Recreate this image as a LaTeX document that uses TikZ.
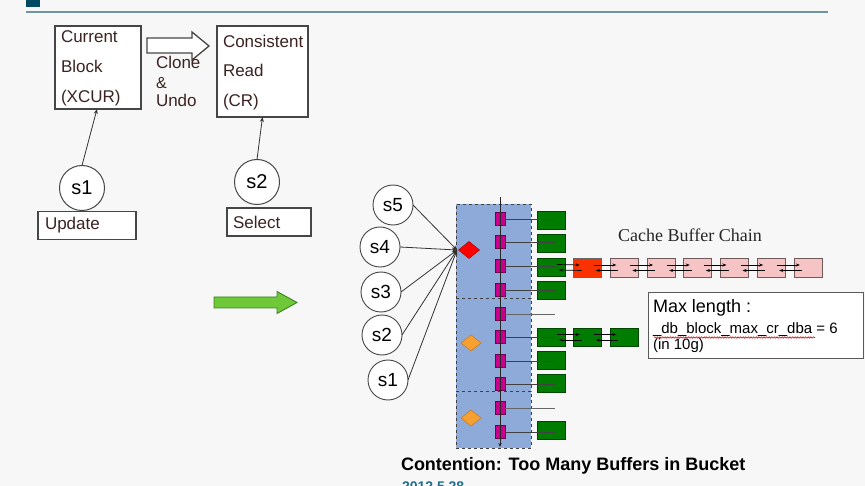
\documentclass[tikz,border=0pt]{standalone}
\usepackage{fontspec}
\setmainfont{Liberation Sans}
\newfontfamily\seriffont{Liberation Serif}
\usetikzlibrary{arrows.meta,shapes.geometric,decorations.pathmorphing}
\definecolor{bg}{RGB}{247,247,247}
\definecolor{hdr}{RGB}{0,75,100}
\definecolor{hdrline}{RGB}{110,150,160}
\definecolor{boxline}{RGB}{70,70,70}
\definecolor{btext}{RGB}{60,35,35}
\definecolor{bucketblue}{RGB}{142,170,217}
\definecolor{magent}{RGB}{200,0,140}
\definecolor{magentdk}{RGB}{110,0,80}
\definecolor{gfill}{RGB}{0,125,0}
\definecolor{gline}{RGB}{0,70,0}
\definecolor{pinkf}{RGB}{246,196,196}
\definecolor{pinkl}{RGB}{110,90,90}
\definecolor{redf}{RGB}{250,50,0}
\definecolor{orangef}{RGB}{247,160,50}
\definecolor{oranged}{RGB}{200,120,30}
\definecolor{arrowgreen}{RGB}{110,200,55}
\definecolor{arrowgreendk}{RGB}{60,130,40}
\definecolor{datecol}{RGB}{30,110,140}
\newcommand{\dlink}[2]{%
  \draw[lnk] ([xshift=-8pt,yshift=2.5pt]#1.east) -- ([xshift=6pt,yshift=2.5pt]#2.west);
  \draw[lnk] ([xshift=8pt,yshift=-3pt]#2.west) -- ([xshift=-6pt,yshift=-3pt]#1.east);
}
\begin{document}
\begin{tikzpicture}[x=1pt,y=-1pt,
  >={Stealth[length=5pt,width=4pt]},
  every node/.style={inner sep=0pt, outer sep=0pt},
  fs/.style={font=\fontsize{#1}{#1}\selectfont},
  btxt/.style={fs=17, text=btext, anchor=base west},
  bigbox/.style={draw=boxline, line width=1.3pt, fill=white, rectangle},
  labbox/.style={draw=boxline, line width=1.2pt, fill=white, rectangle, fs=17, text=btext, align=left, anchor=west},
  bigcirc/.style={circle, draw=boxline, line width=1pt, fill=white, minimum size=45pt, fs=20},
  smcirc/.style={circle, draw=boxline, line width=0.9pt, fill=white, minimum size=40pt, fs=19},
  bucket/.style={rectangle, draw=black!75, dashed, line width=0.8pt, fill=bucketblue, minimum width=75pt},
  mrect/.style={rectangle, draw=magentdk, line width=0.6pt, fill=magent, minimum width=10pt, minimum height=13.5pt},
  gbox/.style={rectangle, draw=gline, line width=0.8pt, fill=gfill, minimum width=28pt, minimum height=18pt},
  pbox/.style={rectangle, draw=pinkl, line width=0.8pt, fill=pinkf, minimum width=28pt, minimum height=19pt},
  rbox/.style={rectangle, draw=black!60, line width=0.8pt, fill=redf, minimum width=28pt, minimum height=19pt},
  hline/.style={draw=black!75, line width=0.8pt},
  conn/.style={draw=black!80, line width=0.8pt, ->},
  lnk/.style={draw=black, line width=0.7pt, -{Stealth[length=4pt,width=3pt]}}
]
\useasboundingbox (0,0) rectangle (865,486);
\clip (0,0) rectangle (865,486);
\fill[bg] (0,0) rectangle (865,486);

% header
\fill[hdr] (26,0) rectangle (40,7);
\draw[hdrline, line width=1.8pt] (26,12) -- (828,12);

% top-left boxes
\node[bigbox, minimum width=86pt, minimum height=83pt] (b1) at (98,67.5) {};
\node[btxt] (t1a) at (61,43) {Current};
\node[btxt] (t1b) at (61,73) {Block};
\node[btxt] (t1c) at (61,103) {(XCUR)};

\node[bigbox, minimum width=91pt, minimum height=91pt] (b2) at (262.5,71.5) {};
\node[btxt] (t2a) at (223,48) {Consistent};
\node[btxt] (t2b) at (223,77) {Read};
\node[btxt] (t2c) at (223,107) {(CR)};

% hollow arrow
\draw[boxline, line width=1.3pt, fill=white, line join=miter]
  (147,38) -- (192,38) -- (192,32) -- (209,46) -- (192,60) -- (192,53) -- (147,53) -- cycle;
\node[btxt] (cl1) at (156,68.5) {Clone};
\node[btxt, fs=16] (cl2) at (156,89) {\&};
\node[btxt] (cl3) at (156,106.5) {Undo};

% sessions top
\node[bigcirc] (s1top) at (82,188) {s1};
\node[bigcirc] (s2top) at (257,182) {s2};
\draw[conn] (s1top.north) -- ([xshift=-1pt]b1.south);
\draw[conn] (s2top.north) -- (b2.south);
\node[labbox, minimum width=98pt, minimum height=28pt, text width=84pt, inner xsep=7pt] (upd) at (38,225.5) {Update};
\node[labbox, minimum width=84pt, minimum height=28pt, text width=72pt, inner xsep=6pt] (sel) at (227,222) {Select};

% green arrow
\draw[arrowgreendk, line width=0.9pt, fill=arrowgreen, line join=miter]
  (214,297) -- (277,297) -- (277,291.5) -- (297,302.5) -- (277,313.5) -- (277,308) -- (214,308) -- cycle;

% bucket
\node[bucket, minimum height=94pt] (bk1) at (493.5,251) {};
\node[bucket, minimum height=93pt] (bk2) at (493.5,344.5) {};
\node[bucket, minimum height=57pt] (bk3) at (493.5,419.5) {};

\node[diamond, fill=red, draw=red!70!black, line width=0.5pt, minimum width=21pt, minimum height=17pt] (dr) at (469,250) {};
\node[diamond, fill=orangef, draw=oranged, line width=0.5pt, minimum width=20pt, minimum height=16pt] (do1) at (471,343) {};
\node[diamond, fill=orangef, draw=oranged, line width=0.5pt, minimum width=20pt, minimum height=16pt] (do2) at (471,418) {};

% magenta rects
\foreach \i/\yy in {1/219,2/242,3/266,4/290,5/314,6/337,7/361,8/384,9/408,10/432}{
  \node[mrect] (m\i) at (500,\yy) {};
}
% green boxes
\foreach \i/\yy in {1/220,2/243,3/267,4/290,6/337,7/360,8/383,10/430}{
  \node[gbox] (g\i) at (551,\yy) {};
}
\foreach \i in {1,2,3,4,6,7,8,10}{
  \draw[hline] (m\i.east) -- ([xshift=4pt]g\i.center |- m\i.east);
}
\coordinate (e5) at (555,314);
\coordinate (e9) at (555,408);
\draw[hline, draw=black!60] (m5.east) -- (e5);
\draw[hline, draw=black!60] (m9.east) -- (e9);

% vertical chain line
\coordinate (vtop) at (500,197);
\coordinate (vbot) at (500,447);
\draw[draw=black!85, line width=0.9pt, -{Stealth[length=4pt,width=3.5pt]}] (vtop) -- (vbot);

% session circles right
\node[smcirc] (r5) at (393,205) {s5};
\node[smcirc] (r4) at (380,247) {s4};
\node[smcirc] (r3) at (381,292) {s3};
\node[smcirc] (r2) at (382,335) {s2};
\node[smcirc] (r1) at (388,380) {s1};
\coordinate (conv) at (457,250);
\foreach \n in {r5,r4,r3,r2,r1}{
  \draw[conn, -{Stealth[length=5pt,width=4pt]}] (\n.east) -- (conv);
}

% cache buffer chain
\node[rbox] (c1) at (587.7,267.5) {};
\node[pbox] (c2) at (624.4,267.5) {};
\node[pbox] (c3) at (661.1,267.5) {};
\node[pbox] (c4) at (697.8,267.5) {};
\node[pbox] (c5) at (734.5,267.5) {};
\node[pbox] (c6) at (771.2,267.5) {};
\node[pbox] (c7) at (807.9,267.5) {};
\dlink{g3}{c1}
\dlink{c1}{c2}
\dlink{c2}{c3}
\dlink{c3}{c4}
\dlink{c4}{c5}
\dlink{c5}{c6}
\dlink{c6}{c7}

\node[gbox] (h2) at (587.7,337) {};
\node[gbox] (h3) at (624.4,337) {};
\dlink{g6}{h2}
\dlink{h2}{h3}

\node[fs=18, text=black!85, anchor=base] (cbc) at (690,242) {\seriffont Cache Buffer Chain};

% max length box
\node[rectangle, draw=black!65, line width=1pt, fill=white, minimum width=215pt, minimum height=66pt] (mlb) at (755.5,325.5) {};
\node[fs=18, anchor=base west] (ml1) at (653,313) {Max length :};
\node[fs=15, anchor=base west] (ml2) at (653,334) {\_db\_block\_max\_cr\_dba = 6};
\node[fs=15, anchor=base west] (ml3) at (653,350) {(in 10g)};
\draw[red!85!black, line width=0.6pt, decorate, decoration={snake, amplitude=0.7pt, segment length=2.6pt}] (654,337.5) -- (815,337.5);

% title and date
\node[font=\fontsize{18}{18}\selectfont\bfseries, anchor=base west] (title) at (401,470) {Contention: Too Many Buffers in Bucket};
\node[font=\fontsize{14}{14}\selectfont\bfseries, text=datecol, anchor=base west] (date) at (402,491) {2012.5.28};
\end{tikzpicture}
\end{document}
